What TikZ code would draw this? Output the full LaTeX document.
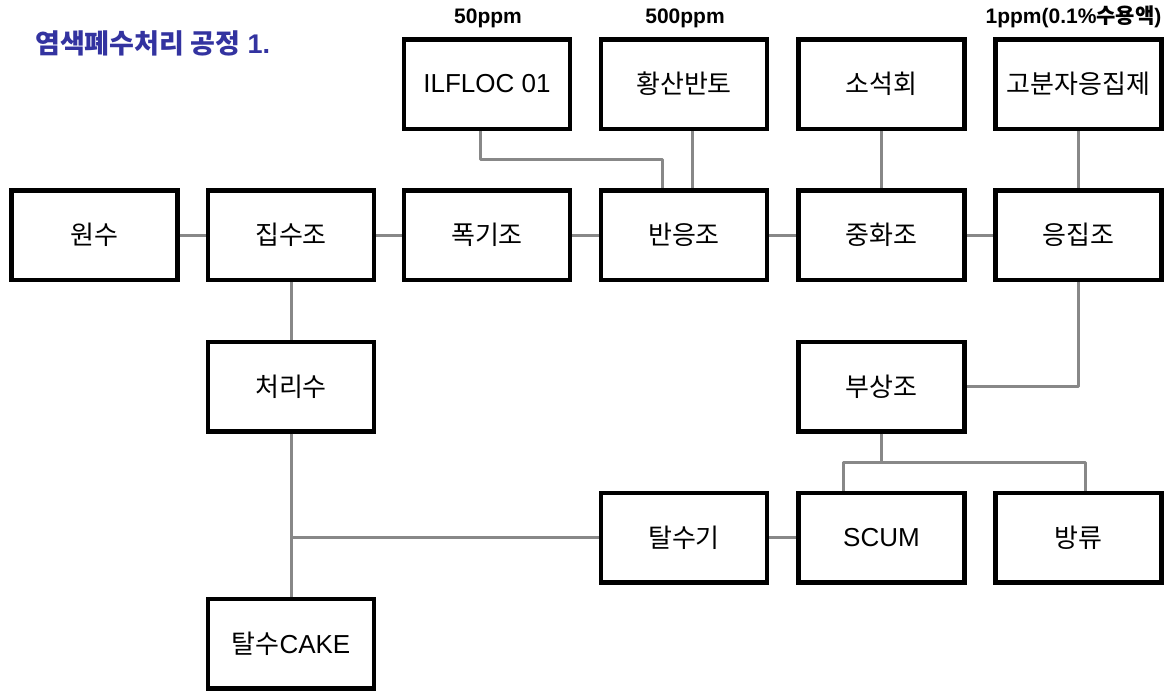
\documentclass[tikz,border=0pt]{standalone}
\usepackage{fontspec}
\setmainfont{Liberation Sans}
\newfontfamily\kr{Noto Sans CJK KR}
\definecolor{connc}{RGB}{136,136,136}
\definecolor{titleblue}{RGB}{51,51,160}
\begin{document}
\begin{tikzpicture}[x=1pt,y=-1pt,
  box/.style={draw=black,fill=white,line width=4.5pt,minimum width=166pt,minimum height=89.5pt,inner sep=0pt,font=\fontsize{26}{30}\selectfont,text=black},
  conn/.style={draw=connc,line width=3pt,line join=round},
  lbl/.style={font=\fontsize{21}{24}\selectfont\bfseries,inner sep=0pt}]
\useasboundingbox (0,0) rectangle (1175,691);

% title
\node[anchor=west,text=titleblue,font=\fontsize{27}{30}\selectfont\bfseries,inner sep=0pt] (title) at (35,43) {{\kr 염색폐수처리 공정} 1.};

% dosage labels
\node[lbl] (l50) at (488,18) {50ppm};
\node[lbl] (l500) at (685,18) {500ppm};
\node[lbl] (l1) at (1073.5,17) {1ppm(0.1\%{\kr 수용액})};

% boxes
\node[box] (wonsu) at (94.5,235) {\kr 원수};
\node[box] (jip) at (291,235) {\kr 집수조};
\node[box] (pok) at (487,235) {\kr 폭기조};
\node[box] (ban) at (684,235) {\kr 반응조};
\node[box] (jung) at (881.5,235) {\kr 중화조};
\node[box] (eung) at (1078.5,235) {\kr 응집조};
\node[box] (ilf) at (487,84) {ILFLOC 01};
\node[box] (hwang) at (684,84) {\kr 황산반토};
\node[box] (soseok) at (881.5,84) {\kr 소석회};
\node[box] (gobun) at (1078.5,84) {\kr 고분자응집제};
\node[box] (cheori) at (291,386.5) {\kr 처리수};
\node[box] (busang) at (881.5,386.5) {\kr 부상조};
\node[box] (talsugi) at (684,537.5) {\kr 탈수기};
\node[box] (scum) at (881.5,537.5) {SCUM};
\node[box] (bang) at (1078.5,537.5) {\kr 방류};
\node[box] (cake) at (291,643.5) {{\kr 탈수}CAKE};

% connectors, main line
\draw[conn] (wonsu.east) -- (jip.west);
\draw[conn] (jip.east) -- (pok.west);
\draw[conn] (pok.east) -- (ban.west);
\draw[conn] (ban.east) -- (jung.west);
\draw[conn] (jung.east) -- (eung.west);

% chemical feeds
\coordinate (ilfbend) at (662,159);
\draw[conn] ([xshift=-7pt]ilf.south) |- (ilfbend) -- ([xshift=-22pt]ban.north);
\draw[conn] ([xshift=8pt]hwang.south) -- ([xshift=8pt]ban.north);
\draw[conn] (soseok.south) -- (jung.north);
\draw[conn] (gobun.south) -- (eung.north);

% to flotation
\draw[conn] (eung.south) |- (busang.east);

% left branch
\draw[conn] (jip.south) -- (cheori.north);
\draw[conn] (cheori.south) -- (cake.north);
\draw[conn] (talsugi.west) -- (talsugi.west -| cheori.south);
\draw[conn] (talsugi.east) -- (scum.west);

% flotation split
\coordinate (br) at (881.5,462);
\coordinate (scumtop) at ([xshift=-38.5pt]scum.north);
\coordinate (bangtop) at ([xshift=6.5pt]bang.north);
\draw[conn] (busang.south) -- (br);
\draw[conn] (scumtop) |- (bangtop |- br) -- (bangtop);
\end{tikzpicture}
\end{document}
